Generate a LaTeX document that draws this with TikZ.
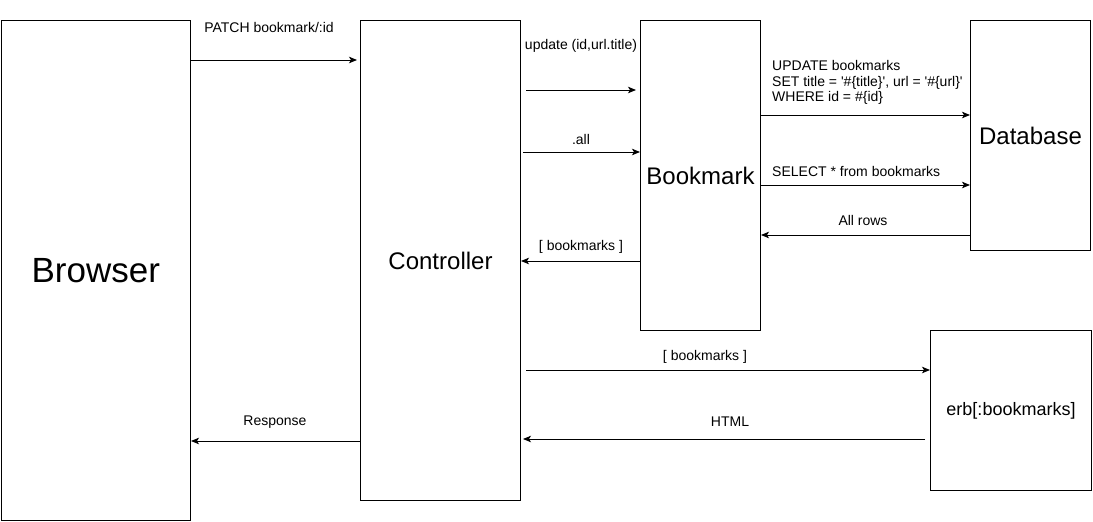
\documentclass[tikz,border=0pt]{standalone}
\usepackage{fontspec}
\setmainfont{Liberation Sans}
\usetikzlibrary{arrows.meta}
\begin{document}
\begin{tikzpicture}[x=1pt,y=-1pt,
  box/.style={draw, line width=1pt, inner sep=0pt, anchor=north west},
  arr/.style={line width=1pt, -{Stealth[length=8pt,width=6.5pt,inset=2pt]}},
  lbl/.style={font=\fontsize{14}{15.8}\selectfont, inner sep=0pt}
]
\useasboundingbox (0,0) rectangle (1093,522);
\node[box, minimum width=189.5pt, minimum height=500pt] (browser) at (0.5,20) {};
\node[font=\fontsize{35}{40}\selectfont] at (browser.center) {Browser};
\node[box, minimum width=160pt, minimum height=480pt] (controller) at (360,20) {};
\node[font=\fontsize{24}{28}\selectfont] at (controller.center) {Controller};
\node[box, minimum width=120pt, minimum height=310pt] (bookmark) at (640,20) {};
\node[font=\fontsize{24}{28}\selectfont] at (bookmark.center) {Bookmark};
\node[box, minimum width=120pt, minimum height=230pt] (database) at (970,20) {};
\node[font=\fontsize{24}{28}\selectfont] at (database.center) {Database};
\node[box, minimum width=161pt, minimum height=160pt] (erb) at (930,330) {};
\node[font=\fontsize{18}{22}\selectfont] at (erb.center) {erb[:bookmarks]};

% Browser -> Controller
\draw[arr] (browser.east |- 0,60) -- ([xshift=-3pt]controller.west |- 0,60);
\node[lbl] at (269,27) {PATCH bookmark/:id};
% Controller -> Browser
\draw[arr] (controller.west |- 0,441) -- (browser.east |- 0,441);
\node[lbl] at (275,422) {Response};

% Controller <-> Bookmark
\draw[arr] ([xshift=5pt]controller.east |- 0,90) -- ([xshift=-4pt]bookmark.west |- 0,90);
\node[lbl] at (581,46) {update (id,url.title)};
\draw[arr] ([xshift=2pt]controller.east |- 0,152) -- (bookmark.west |- 0,152);
\node[lbl] at (581,139) {.all};
\draw[arr] (bookmark.west |- 0,261) -- (controller.east |- 0,261);
\node[lbl] at (581,247) {[ bookmarks ]};

% Bookmark <-> Database
\draw[arr] (bookmark.east |- 0,115) -- (database.west |- 0,115);
\node[lbl, align=left, anchor=north west] at (772,60) {UPDATE bookmarks\\SET title = \textquotesingle\#\{title\}\textquotesingle, url = \textquotesingle\#\{url\}\textquotesingle\\WHERE id = \#\{id\}};
\draw[arr] (bookmark.east |- 0,185) -- (database.west |- 0,185);
\node[lbl, anchor=west] at (772,171) {SELECT * from bookmarks};
\draw[arr] (database.west |- 0,235) -- (bookmark.east |- 0,235);
\node[lbl] at (863,220) {All rows};

% Controller <-> erb
\draw[arr] ([xshift=5pt]controller.east |- 0,370) -- (erb.west |- 0,370);
\node[lbl] at (705,357) {[ bookmarks ]};
\draw[arr] ([xshift=-5pt]erb.west |- 0,439) -- ([xshift=2pt]controller.east |- 0,439);
\node[lbl] at (730,422) {HTML};
\end{tikzpicture}
\end{document}
